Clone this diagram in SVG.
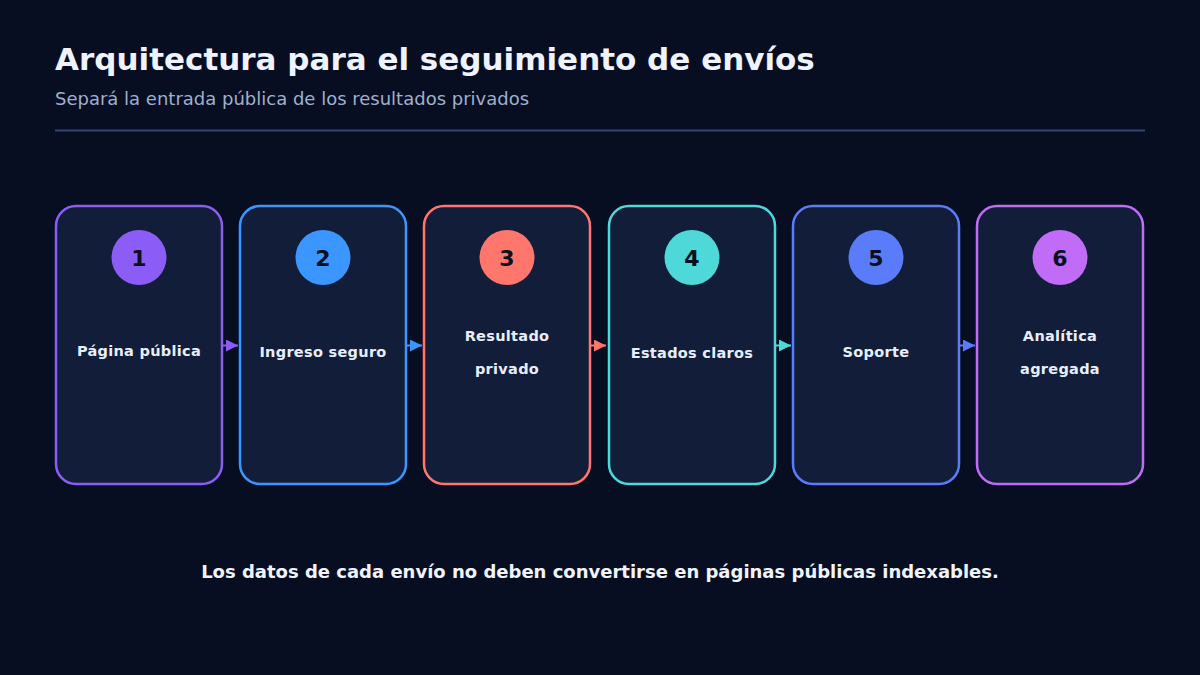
<svg xmlns="http://www.w3.org/2000/svg" width="1200" height="675" viewBox="0 0 1200 675">
<style>
.bg{fill:#080e21}
.title{font-family:"DejaVu Sans",sans-serif;font-weight:bold;font-size:31px;fill:#eef3ff}
.sub{font-family:"DejaVu Sans",sans-serif;font-size:18px;fill:#9fb0cc}
.card{fill:#121d3a;stroke-width:2.5}
.num{font-family:"DejaVu Sans",sans-serif;font-weight:bold;font-size:22px;fill:#0b1020;text-anchor:middle}
.lbl{font-family:"DejaVu Sans",sans-serif;font-weight:bold;font-size:14.5px;fill:#e8eefc;text-anchor:middle;letter-spacing:0.3px}
.foot{font-family:"DejaVu Sans",sans-serif;font-weight:bold;font-size:18px;fill:#f0f4ff;text-anchor:middle}
.conn{stroke-width:2;fill:none}
</style>
<defs>
<marker id="a1" viewBox="0 0 10 10" refX="10" refY="5" markerWidth="12" markerHeight="12" orient="auto" markerUnits="userSpaceOnUse"><path d="M0,0L10,5L0,10z" fill="#8b5cf6"/></marker>
<marker id="a2" viewBox="0 0 10 10" refX="10" refY="5" markerWidth="12" markerHeight="12" orient="auto" markerUnits="userSpaceOnUse"><path d="M0,0L10,5L0,10z" fill="#3b96ff"/></marker>
<marker id="a3" viewBox="0 0 10 10" refX="10" refY="5" markerWidth="12" markerHeight="12" orient="auto" markerUnits="userSpaceOnUse"><path d="M0,0L10,5L0,10z" fill="#ff766c"/></marker>
<marker id="a4" viewBox="0 0 10 10" refX="10" refY="5" markerWidth="12" markerHeight="12" orient="auto" markerUnits="userSpaceOnUse"><path d="M0,0L10,5L0,10z" fill="#4fd8d8"/></marker>
<marker id="a5" viewBox="0 0 10 10" refX="10" refY="5" markerWidth="12" markerHeight="12" orient="auto" markerUnits="userSpaceOnUse"><path d="M0,0L10,5L0,10z" fill="#5b7cfa"/></marker>
</defs>
<rect class="bg" x="0" y="0" width="1200" height="675"/>
<text class="title" x="55" y="70">Arquitectura para el seguimiento de envíos</text>
<text class="sub" x="55" y="105">Separá la entrada pública de los resultados privados</text>
<line x1="55" y1="130.5" x2="1145" y2="130.5" stroke="#34466b" stroke-width="2"/>
<g id="connectors">
<line class="conn" x1="223" y1="345.5" x2="238" y2="345.5" stroke="#8b5cf6" marker-end="url(#a1)"/>
<line class="conn" x1="407" y1="345.5" x2="422" y2="345.5" stroke="#3b96ff" marker-end="url(#a2)"/>
<line class="conn" x1="591" y1="345.5" x2="606" y2="345.5" stroke="#ff766c" marker-end="url(#a3)"/>
<line class="conn" x1="776" y1="345.5" x2="791" y2="345.5" stroke="#4fd8d8" marker-end="url(#a4)"/>
<line class="conn" x1="960" y1="345.5" x2="975" y2="345.5" stroke="#5b7cfa" marker-end="url(#a5)"/>
</g>
<g id="n1">
<rect class="card" x="56" y="206" width="166" height="278" rx="20" stroke="#8b5cf6"/>
<circle cx="139" cy="257.5" r="27.5" fill="#8b5cf6"/>
<text class="num" x="139" y="265.5">1</text>
<text class="lbl" x="139" y="356">Página pública</text>
</g>
<g id="n2">
<rect class="card" x="240" y="206" width="166" height="278" rx="20" stroke="#3b96ff"/>
<circle cx="323" cy="257.5" r="27.5" fill="#3b96ff"/>
<text class="num" x="323" y="265.5">2</text>
<text class="lbl" x="323" y="357">Ingreso seguro</text>
</g>
<g id="n3">
<rect class="card" x="424" y="206" width="166" height="278" rx="20" stroke="#ff766c"/>
<circle cx="507" cy="257.5" r="27.5" fill="#ff766c"/>
<text class="num" x="507" y="265.5">3</text>
<text class="lbl" x="507" y="341">Resultado</text>
<text class="lbl" x="507" y="374">privado</text>
</g>
<g id="n4">
<rect class="card" x="609" y="206" width="166" height="278" rx="20" stroke="#4fd8d8"/>
<circle cx="692" cy="257.5" r="27.5" fill="#4fd8d8"/>
<text class="num" x="692" y="265.5">4</text>
<text class="lbl" x="692" y="358">Estados claros</text>
</g>
<g id="n5">
<rect class="card" x="793" y="206" width="166" height="278" rx="20" stroke="#5b7cfa"/>
<circle cx="876" cy="257.5" r="27.5" fill="#5b7cfa"/>
<text class="num" x="876" y="265.5">5</text>
<text class="lbl" x="876" y="357">Soporte</text>
</g>
<g id="n6">
<rect class="card" x="977" y="206" width="166" height="278" rx="20" stroke="#c06cf7"/>
<circle cx="1060" cy="257.5" r="27.5" fill="#c06cf7"/>
<text class="num" x="1060" y="265.5">6</text>
<text class="lbl" x="1060" y="341">Analítica</text>
<text class="lbl" x="1060" y="374">agregada</text>
</g>
<text class="foot" x="600" y="578">Los datos de cada envío no deben convertirse en páginas públicas indexables.</text>
</svg>
